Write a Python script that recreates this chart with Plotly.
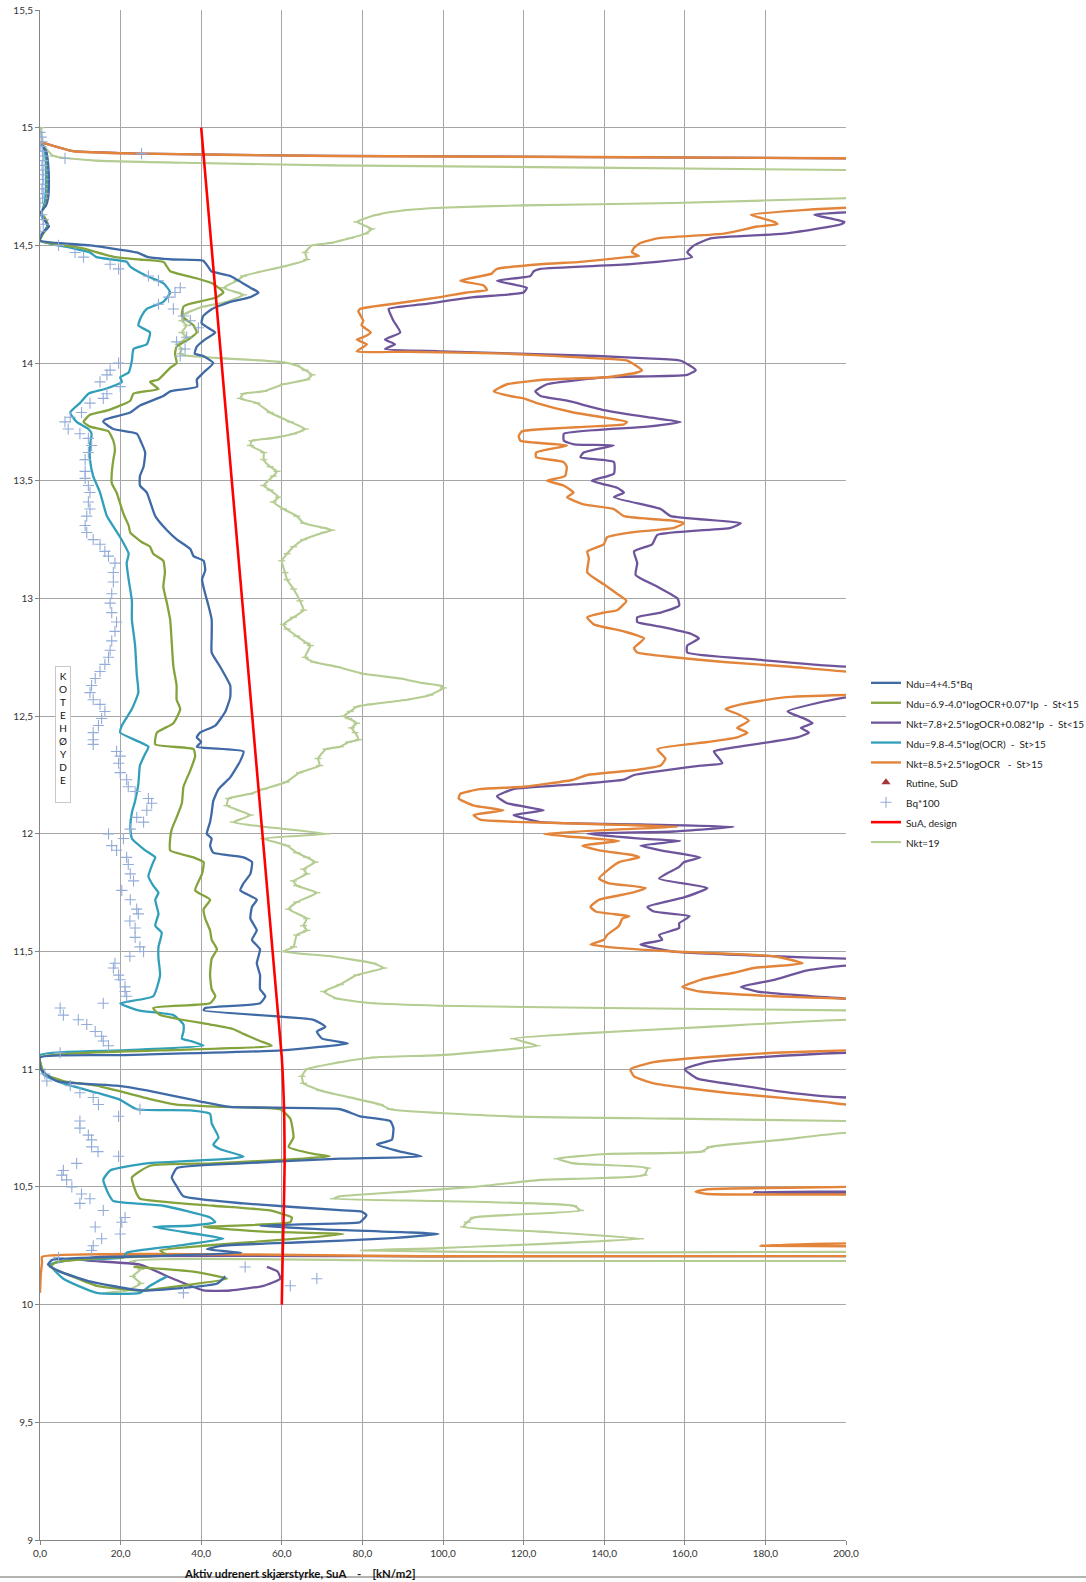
import plotly.graph_objects as go

# ---------------------------------------------------------------
# Undrained shear strength profiles (kN/m2) against elevation (m)
# Values beyond 200 run off the right edge of the chart.
# ---------------------------------------------------------------

# Ndu = 4 + 4.5*Bq
blue_kote = [14.93, 14.90, 14.85, 14.75, 14.70, 14.67, 14.64, 14.61, 14.58, 14.56, 14.54, 14.52,
             14.50, 14.47, 14.45, 14.44, 14.435, 14.41, 14.39, 14.37, 14.32, 14.30, 14.28, 14.26,
             14.23, 14.20, 14.17, 14.15, 14.13, 14.10, 14.07, 14.04, 14.03, 14.00, 13.96, 13.93,
             13.90, 13.88, 13.86, 13.82, 13.79, 13.76, 13.75, 13.72, 13.70, 13.66, 13.62, 13.56,
             13.52, 13.48, 13.45, 13.35, 13.29, 13.25, 13.21, 13.18, 13.16, 13.12, 13.08, 13.02,
             12.97, 12.91, 12.84, 12.77, 12.71, 12.63, 12.58, 12.52, 12.46, 12.43, 12.41, 12.39,
             12.37, 12.35, 12.31, 12.24, 12.19, 12.14, 12.09, 12.05, 12.00, 11.98, 11.95, 11.92,
             11.90, 11.88, 11.83, 11.79, 11.76, 11.72, 11.69, 11.64, 11.59, 11.55, 11.51, 11.45,
             11.40, 11.34, 11.31, 11.28, 11.26, 11.25, 11.21, 11.18, 11.16, 11.13, 11.11, 11.08,
             11.06, 11.05, 11.00, 10.95, 10.93, 10.91, 10.87, 10.86, 10.84, 10.83, 10.80, 10.78,
             10.75, 10.70, 10.68, 10.65, 10.63, 10.62, 10.60, 10.58, 10.54, 10.50, 10.46, 10.43,
             10.40, 10.395, 10.38, 10.35, 10.345, 10.335, 10.32, 10.30, 10.28, 10.265, 10.25, 10.235,
             10.22, 10.205, 10.19, 10.17, 10.14, 10.10, 10.06, 10.07, 10.09, 10.12]
blue_su = [0.3, 1.5, 2.0, 2.2, 2.0, 1.5, 0.2, 1.0, 2.2, 1.0, 0.2, 0.0,
           12.4, 24.0, 26.9, 33.0, 40.5, 41.7, 42.5, 47.2, 52.2, 54.2, 52.2, 47.2,
           42.7, 40.5, 40.1, 41.7, 43.5, 40.9, 38.9, 38.4, 40.5, 43.0, 40.6, 38.9,
           39.0, 32.3, 30.6, 24.8, 22.4, 16.1, 15.7, 18.2, 24.0, 25.2, 26.1, 25.7,
           24.8, 24.8, 26.5, 28.6, 31.5, 34.0, 37.3, 38.1, 40.6, 41.0, 40.2, 41.0,
           41.8, 42.6, 42.6, 42.6, 44.7, 47.2, 47.2, 46.0, 43.5, 39.7, 38.9, 40.0,
           38.9, 50.5, 49.7, 47.2, 44.3, 43.0, 42.6, 42.2, 41.4, 42.6, 42.2, 43.0,
           50.5, 52.6, 52.2, 50.5, 49.7, 53.8, 52.6, 52.2, 53.8, 52.6, 54.6, 53.8,
           54.6, 54.6, 55.9, 54.6, 41.0, 40.6, 67.9, 70.8, 68.7, 70.0, 76.4, 60.0,
           20.0, 0.0, 0.2, 4.1, 19.0, 26.5, 38.0, 40.6, 47.2, 74.5, 79.4, 86.9,
           87.7, 87.3, 83.6, 89.4, 94.7, 74.5, 50.0, 34.0, 32.7, 34.0, 35.6, 50.5,
           75.3, 79.8, 81.0, 79.4, 74.5, 54.6, 70.0, 98.9, 85.0, 65.0, 45.0, 41.4,
           50.0, 25.0, 3.0, 2.0, 5.0, 12.0, 25.0, 35.0, 44.0, 46.0]

# Ndu = 6.9 - 4.0*logOCR + 0.07*Ip  (St<15)
green_kote = [14.93, 14.90, 14.80, 14.70, 14.66, 14.64, 14.61, 14.58, 14.55, 14.52,
              14.49, 14.45, 14.44, 14.43, 14.41, 14.39, 14.36, 14.34, 14.31, 14.30, 14.28, 14.25,
              14.24, 14.20, 14.16, 14.13, 14.10, 14.07, 14.04, 14.00, 13.98, 13.93, 13.92, 13.89,
              13.87, 13.84, 13.80, 13.78, 13.75, 13.73, 13.71, 13.67, 13.63, 13.59, 13.53, 13.49,
              13.45, 13.36, 13.31, 13.28, 13.24, 13.22, 13.19, 13.16, 13.11, 13.05, 12.98, 12.91,
              12.81, 12.71, 12.63, 12.57, 12.53, 12.47, 12.43, 12.38, 12.36, 12.33, 12.27, 12.20,
              12.13, 12.07, 12.02, 11.98, 11.93, 11.90, 11.88, 11.83, 11.76, 11.72, 11.68, 11.64,
              11.59, 11.55, 11.51, 11.47, 11.40, 11.34, 11.31, 11.28, 11.26, 11.23, 11.19, 11.17,
              11.15, 11.12, 11.10, 11.08, 11.05, 10.98, 10.95, 10.93, 10.87, 10.85, 10.84, 10.83,
              10.79, 10.71, 10.67, 10.64, 10.63, 10.62, 10.60, 10.59, 10.54, 10.47, 10.45, 10.42,
              10.40, 10.37, 10.35, 10.33, 10.31, 10.30, 10.28, 10.25, 10.23, 10.21,
              10.20, 10.18, 10.16, 10.12, 10.08, 10.06, 10.08, 10.11, 10.14, 10.16]
green_su = [0.3, 1.5, 2.0, 1.8, 1.0, 0.3, 1.5, 2.0, 0.8, 0.0,
            9.9, 18.6, 24.8, 30.6, 31.5, 32.3, 38.9, 42.6, 45.1, 45.5, 43.9, 36.8,
            35.6, 35.2, 38.1, 38.9, 36.8, 33.9, 33.5, 33.9, 32.3, 29.4, 27.3, 29.4,
            23.2, 22.4, 17.0, 12.4, 10.8, 12.4, 17.0, 18.2, 18.6, 18.2, 17.8, 17.8,
            19.0, 20.7, 22.0, 22.4, 25.2, 27.3, 28.1, 30.6, 31.0, 30.6, 31.5, 32.3,
            32.7, 33.1, 33.9, 33.9, 34.8, 33.1, 29.0, 28.6, 38.1, 38.5, 37.3, 35.6,
            35.2, 33.9, 32.7, 32.3, 32.3, 38.1, 40.6, 40.2, 38.5, 42.2, 40.6, 41.0,
            42.2, 42.6, 43.9, 42.6, 42.2, 42.6, 43.5, 42.2, 28.1, 29.8, 42.2, 48.0,
            50.5, 54.6, 57.5, 30.0, 0.0, 1.2, 5.8, 14.1, 28.1, 33.9, 45.5, 59.6,
            62.1, 62.9, 61.7, 67.9, 71.9, 65.4, 43.0, 27.3, 22.8, 24.0, 24.8, 43.0,
            57.1, 62.5, 62.1, 40.6, 55.5, 75.3, 63.7, 40.6, 29.8, 31.5,
            18.0, 4.0, 2.5, 8.0, 14.1, 24.8, 35.0, 46.4, 38.0, 23.2]

# Nkt = 7.8 + 2.5*logOCR + 0.082*Ip  (St<15)
purple_kote = [14.94, 14.90, 14.89, 14.88, 14.87, 14.84, 14.66, 14.64, 14.63, 14.60, 14.59, 14.55,
               14.53, 14.50, 14.47, 14.45, 14.42, 14.40, 14.39, 14.37, 14.35, 14.32, 14.30, 14.28,
               14.25, 14.23, 14.21, 14.18, 14.13, 14.10, 14.08, 14.06, 14.05, 14.03, 14.02, 14.01,
               13.97, 13.95, 13.94, 13.91, 13.88, 13.86, 13.84, 13.80, 13.77, 13.75, 13.73, 13.70,
               13.67, 13.655, 13.65, 13.62, 13.60, 13.58, 13.53, 13.50, 13.47, 13.45, 13.43, 13.38,
               13.35, 13.32, 13.30, 13.27, 13.23, 13.20, 13.15, 13.10, 13.05, 13.00, 12.97, 12.94,
               12.92, 12.90, 12.88, 12.85, 12.83, 12.80, 12.77, 12.74, 12.71, 12.68, 12.61, 12.58,
               12.52, 12.49, 12.47, 12.45, 12.43, 12.41, 12.36, 12.35, 12.30, 12.29, 12.25, 12.23,
               12.21, 12.19, 12.16, 12.13, 12.10, 12.08, 12.05, 12.04, 12.03, 12.01, 12.00, 11.98,
               11.97, 11.95, 11.93, 11.90, 11.88, 11.86, 11.81, 11.77, 11.73, 11.69, 11.67, 11.65,
               11.62, 11.60, 11.57, 11.55, 11.53, 11.50, 11.48, 11.47, 11.455, 11.44, 11.42, 11.38,
               11.35, 11.33, 11.30, 11.25, 11.10, 11.07, 11.05, 11.03, 11.00, 10.96, 10.93, 10.90,
               10.88, 10.85, 10.49, 10.48, 10.478, 10.47, 10.46, 10.207, 10.2065, 10.2055, 10.204,
               10.19, 10.17, 10.11, 10.06, 10.06, 10.08, 10.11, 10.14, 10.16]
purple_su = [0.0, 8.3, 24.8, 72.0, 200.0, 300.0, 300.0, 200.0, 192.1, 199.6, 198.8, 184.6,
             166.4, 162.3, 160.6, 161.8, 146.5, 124.2, 122.5, 121.7, 113.4, 120.8, 120.0, 107.6,
             95.2, 86.5, 86.9, 87.7, 89.4, 85.6, 88.1, 85.6, 99.3, 138.2, 150.7, 159.0,
             162.7, 160.6, 140.7, 125.8, 122.9, 124.2, 130.8, 140.0, 150.7, 159.0, 150.7, 130.0,
             130.0, 132.5, 142.4, 134.9, 134.1, 142.4, 142.4, 136.9, 143.2, 144.9, 142.4, 154.0,
             156.5, 173.9, 171.4, 153.2, 151.9, 147.4, 148.2, 147.8, 153.2, 158.2, 158.6, 154.0,
             148.2, 148.2, 154.0, 161.5, 163.5, 160.6, 160.6, 178.0, 200.0, 300.0, 300.0, 200.0,
             185.5, 189.6, 191.7, 188.8, 190.8, 187.9, 169.7, 167.2, 169.3, 164.0, 147.4, 144.9,
             132.4, 117.5, 113.4, 115.9, 125.0, 117.5, 124.2, 149.0, 172.2, 157.3, 135.8, 149.0,
             158.9, 149.0, 154.0, 163.9, 159.8, 158.6, 153.6, 165.6, 159.8, 150.7, 152.3, 161.2,
             158.6, 158.6, 153.6, 154.4, 149.0, 157.3, 182.2, 200.0, 300.0, 200.0, 190.4, 182.2,
             173.9, 178.0, 200.0, 300.0, 300.0, 200.0, 178.0, 165.6, 160.0, 163.2, 174.0, 186.3,
             200.0, 300.0, 300.0, 200.0, 177.2, 200.0, 300.0, 300.0, 250.0, 100.0, 15.0,
             10.0, 24.8, 33.0, 40.6, 47.2, 55.5, 59.6, 59.0, 56.3]

# Ndu = 9.8 - 4.5*log(OCR)  (St>15)
teal_kote = [14.93, 14.90, 14.80, 14.70, 14.66, 14.63, 14.60, 14.58, 14.55, 14.52,
             14.49, 14.47, 14.45, 14.43, 14.41, 14.37, 14.34, 14.30, 14.26, 14.23, 14.20, 14.16,
             14.13, 14.08, 14.06, 14.01, 13.96, 13.94, 13.92, 13.89, 13.87, 13.83, 13.79, 13.75,
             13.72, 13.70, 13.65, 13.59, 13.52, 13.45, 13.35, 13.26, 13.19, 13.15, 13.08, 12.99,
             12.91, 12.80, 12.68, 12.60, 12.53, 12.46, 12.43, 12.37, 12.34, 12.29, 12.21, 12.14,
             12.09, 12.03, 11.98, 11.93, 11.90, 11.88, 11.82, 11.78, 11.75, 11.72, 11.66, 11.61,
             11.58, 11.52, 11.47, 11.40, 11.31, 11.28, 11.25, 11.23, 11.19, 11.16, 11.13, 11.12,
             11.10, 11.08, 11.06, 10.98, 10.94, 10.90, 10.87, 10.83, 10.825, 10.81, 10.77, 10.71,
             10.68, 10.66, 10.63, 10.62, 10.60, 10.57, 10.53, 10.47, 10.44, 10.42, 10.37, 10.35,
             10.335, 10.33, 10.30, 10.28, 10.25, 10.22, 10.20,
             10.19, 10.17, 10.11, 10.05, 10.05, 10.08, 10.12]
teal_su = [0.3, 1.2, 1.5, 1.3, 0.8, 0.2, 1.5, 1.8, 0.6, 0.0,
           7.5, 12.4, 14.0, 21.5, 22.4, 26.5, 30.6, 32.3, 30.6, 26.5, 25.2, 24.4,
           27.3, 26.5, 23.2, 22.8, 22.0, 19.9, 20.3, 16.1, 12.0, 9.9, 7.5, 9.1,
           12.0, 12.8, 12.4, 12.4, 13.2, 14.9, 16.6, 19.9, 22.0, 21.5, 22.0, 22.8,
           22.8, 23.6, 24.0, 24.4, 22.8, 20.3, 19.9, 26.9, 26.1, 24.8, 24.4, 23.6,
           22.8, 22.4, 22.8, 26.1, 28.6, 28.1, 26.9, 28.1, 29.4, 28.6, 29.4, 28.6,
           30.2, 29.4, 29.4, 29.8, 28.1, 19.9, 24.4, 33.1, 35.6, 35.6, 35.2, 37.3,
           40.6, 20.0, 0.0, 0.8, 5.8, 14.1, 19.9, 24.0, 37.3, 42.2, 42.6, 44.3,
           43.0, 44.7, 50.5, 47.2, 26.5, 17.4, 15.7, 17.0, 18.2, 30.6, 42.2, 43.5,
           37.3, 28.1, 38.9, 45.5, 33.9, 21.5, 20.7,
           8.0, 2.5, 5.8, 14.1, 24.8, 27.3, 31.5]

# Nkt = 8.5 + 2.5*logOCR  (St>15)
orange_kote = [14.94, 14.90, 14.89, 14.88, 14.87, 14.84, 14.68, 14.66, 14.65, 14.63, 14.60, 14.59,
               14.58, 14.55, 14.53, 14.51, 14.49, 14.47, 14.455, 14.45, 14.43, 14.42, 14.40, 14.39,
               14.38, 14.35, 14.33, 14.31, 14.30, 14.28, 14.25, 14.23, 14.22, 14.18, 14.16, 14.13,
               14.11, 14.10, 14.08, 14.05, 14.048, 14.04, 14.02, 14.01, 13.97, 13.96, 13.94, 13.93,
               13.91, 13.88, 13.86, 13.85, 13.83, 13.79, 13.75, 13.74, 13.73, 13.71, 13.69, 13.67,
               13.65, 13.62, 13.60, 13.58, 13.56, 13.52, 13.50, 13.48, 13.45, 13.43, 13.40, 13.38,
               13.35, 13.33, 13.32, 13.30, 13.28, 13.26, 13.23, 13.20, 13.17, 13.11, 13.06, 13.02,
               12.99, 12.95, 12.94, 12.92, 12.89, 12.86, 12.83, 12.79, 12.77, 12.75, 12.73, 12.71,
               12.69, 12.66, 12.62, 12.59, 12.58, 12.55, 12.53, 12.51, 12.48, 12.45, 12.43, 12.41,
               12.39, 12.36, 12.32, 12.29, 12.27, 12.25, 12.23, 12.20, 12.19, 12.17, 12.15, 12.12,
               12.10, 12.08, 12.06, 12.05, 12.04, 12.03, 12.02, 12.00, 11.99, 11.97, 11.95, 11.93,
               11.91, 11.90, 11.88, 11.85, 11.81, 11.79, 11.77, 11.75, 11.72, 11.69, 11.67, 11.65,
               11.64, 11.61, 11.57, 11.55, 11.53, 11.52, 11.50, 11.48, 11.45, 11.43, 11.41, 11.38,
               11.35, 11.33, 11.31, 11.30, 11.27, 11.11, 11.08, 11.07, 11.05, 11.03, 11.00, 10.97,
               10.94, 10.92, 10.90, 10.87, 10.86, 10.85, 10.82, 10.52, 10.50, 10.49, 10.48, 10.47,
               10.468, 10.45, 10.27, 10.26, 10.25, 10.248, 10.24, 10.207, 10.2065, 10.2055, 10.203,
               10.18, 10.13, 10.05]
orange_su = [0.0, 8.3, 24.8, 72.0, 200.0, 300.0, 300.0, 200.0, 189.2, 176.4, 182.2, 183.0,
             178.0, 169.7, 153.2, 149.0, 147.4, 146.9, 148.6, 145.7, 134.1, 124.2, 113.4, 112.6,
             112.1, 104.3, 110.1, 110.9, 105.9, 99.3, 86.9, 79.4, 79.0, 80.2, 79.8, 82.1,
             80.2, 78.6, 81.1, 78.6, 91.0, 115.9, 138.2, 145.7, 149.4, 148.2, 140.7, 125.8,
             115.9, 112.6, 116.7, 120.0, 123.3, 132.4, 145.7, 144.9, 135.8, 119.6, 118.8, 119.2,
             130.8, 123.1, 123.1, 129.9, 130.7, 130.3, 125.8, 129.9, 132.4, 130.8, 134.9, 142.4,
             144.9, 157.3, 159.8, 157.3, 146.5, 140.7, 139.9, 135.8, 136.2, 135.8, 139.9, 143.2,
             145.5, 143.2, 139.9, 135.8, 137.4, 144.9, 149.9, 147.4, 148.2, 157.3, 169.7, 186.3,
             200.0, 300.0, 300.0, 200.0, 184.6, 173.9, 170.1, 173.0, 175.9, 173.0, 175.5, 173.0,
             165.6, 153.2, 155.2, 154.0, 147.4, 135.8, 132.4, 120.0, 109.2, 104.3, 103.9, 107.6,
             115.0, 107.6, 109.2, 120.0, 140.7, 158.2, 145.0, 125.0, 130.4, 143.7, 134.6, 138.7,
             147.0, 148.7, 143.7, 141.2, 138.7, 141.2, 150.3, 147.0, 138.7, 136.6, 137.9, 146.2,
             144.5, 143.7, 140.7, 139.9, 136.6, 140.7, 157.3, 182.2, 189.2, 177.2, 172.2, 163.9,
             159.4, 163.9, 182.2, 200.0, 300.0, 300.0, 200.0, 182.2, 163.9, 152.3, 146.5, 147.4,
             152.3, 160.4, 170.3, 189.4, 195.1, 200.0, 300.0, 300.0, 200.0, 165.6, 162.7, 165.6,
             200.0, 300.0, 300.0, 200.0, 178.8, 200.0, 300.0, 300.0, 250.0, 100.0, 0.5,
             0.5, 0.2, 0.0]

# Nkt = 19
lgreen_kote = [15.00, 14.93, 14.88, 14.86, 14.85, 14.84, 14.82, 14.78, 14.72, 14.70, 14.68, 14.67,
               14.66, 14.65, 14.63, 14.60, 14.57, 14.55, 14.53, 14.51, 14.50, 14.47, 14.44, 14.41,
               14.37, 14.35, 14.32, 14.30, 14.29, 14.26, 14.24, 14.21, 14.18, 14.16, 14.13, 14.11,
               14.08, 14.06, 14.04, 14.03, 14.02, 14.005, 13.99, 13.97, 13.95, 13.93, 13.91, 13.88,
               13.87, 13.85, 13.83, 13.79, 13.75, 13.72, 13.70, 13.68, 13.67, 13.65, 13.62, 13.59,
               13.56, 13.54, 13.52, 13.48, 13.46, 13.43, 13.41, 13.38, 13.35, 13.32, 13.30, 13.29,
               13.28, 13.25, 13.22, 13.19, 13.16, 13.11, 13.08, 13.04, 12.99, 12.95, 12.92, 12.89,
               12.87, 12.84, 12.81, 12.80, 12.75, 12.73, 12.71, 12.68, 12.66, 12.64, 12.63, 12.62,
               12.59, 12.57, 12.55, 12.54, 12.52, 12.50, 12.49, 12.47, 12.45, 12.43, 12.40, 12.39,
               12.37, 12.36, 12.32, 12.29, 12.26, 12.22, 12.19, 12.17, 12.15, 12.12, 12.08, 12.05,
               12.03, 12.00, 11.98, 11.95, 11.92, 11.90, 11.88, 11.85, 11.83, 11.80, 11.78, 11.75,
               11.71, 11.68, 11.64, 11.61, 11.59, 11.57, 11.52, 11.50, 11.48, 11.45, 11.43, 11.40,
               11.36, 11.33, 11.30, 11.28, 11.27, 11.26, 11.25, 11.23, 11.21, 11.18, 11.15, 11.13,
               11.10, 11.08, 11.06, 11.05, 11.03, 11.00, 10.97, 10.94, 10.91, 10.88, 10.85, 10.83,
               10.80, 10.79, 10.78, 10.76, 10.73, 10.70, 10.67, 10.65, 10.64, 10.62, 10.60, 10.58,
               10.55, 10.53, 10.50, 10.48, 10.46, 10.45, 10.44, 10.42, 10.40, 10.37, 10.35, 10.33,
               10.31, 10.28, 10.24, 10.23, 10.222, 10.220, 10.218, 10.186, 10.1855, 10.185, 10.184,
               10.15, 10.12, 10.09, 10.06, 10.05]
lgreen_su = [0.3, 0.8, 3.3, 14.1, 38.9, 72.0, 200.0, 300.0, 300.0, 200.0, 157.3, 120.0,
             99.3, 91.0, 83.6, 78.6, 82.3, 80.7, 76.9, 72.0, 67.5, 65.8, 66.2, 60.4,
             50.5, 48.9, 45.5, 48.9, 50.5, 46.4, 40.6, 36.0, 35.2, 36.4, 35.2, 36.4,
             34.3, 35.2, 34.8, 37.3, 45.5, 59.6, 63.7, 65.8, 67.5, 66.2, 60.4, 55.5,
             50.5, 49.7, 53.8, 57.1, 62.1, 65.8, 62.9, 57.1, 52.6, 52.2, 55.5, 55.5,
             57.1, 58.8, 57.9, 55.5, 57.1, 59.2, 57.9, 60.4, 63.7, 65.4, 70.4, 72.4,
             70.4, 65.4, 62.9, 61.3, 60.0, 60.8, 61.3, 62.9, 64.5, 65.4, 62.9, 60.4,
             61.3, 63.7, 66.2, 67.1, 65.8, 67.9, 73.7, 80.3, 89.4, 95.2, 99.3, 100.1,
             96.8, 91.0, 81.9, 78.6, 77.0, 75.3, 76.6, 78.6, 77.3, 78.2, 79.0, 76.6,
             74.5, 71.0, 69.0, 69.4, 64.4, 61.1, 55.5, 52.2, 46.8, 46.4, 52.2, 48.0,
             55.5, 71.2, 55.5, 61.3, 63.7, 66.2, 68.3, 65.4, 66.2, 62.9, 63.7, 68.7,
             63.7, 61.7, 66.2, 65.4, 66.2, 63.7, 62.9, 60.4, 72.0, 82.7, 85.3, 78.6,
             74.5, 70.4, 73.7, 82.7, 99.3, 140.7, 200.0, 300.0, 200.0, 165.6, 132.4, 117.5,
             123.3, 113.4, 99.3, 82.7, 74.5, 66.2, 65.0, 65.4, 69.5, 77.0, 84.4, 86.9,
             115.9, 157.3, 200.0, 300.0, 200.0, 183.8, 166.2, 164.2, 140.7, 128.3, 132.4, 150.7,
             149.9, 124.2, 107.6, 91.0, 74.5, 72.8, 99.3, 132.4, 134.1, 107.6, 106.0, 105.1,
             124.2, 149.0, 99.3, 80.2, 120.0, 300.0, 300.0, 300.0, 250.0, 100.0, 23.0,
             25.0, 23.0, 25.0, 21.5, 16.5]

# Bq*100
bq_kote = [14.98, 14.96, 14.94, 14.92, 14.90, 14.88, 14.86, 14.84, 14.82, 14.80, 14.78, 14.76,
           14.74, 14.72, 14.70, 14.68, 14.63, 14.61, 14.59, 14.56, 14.89, 14.87,
           14.50, 14.47, 14.45, 14.42, 14.40, 14.37, 14.35, 14.32, 14.30, 14.28, 14.25, 14.23,
           14.20, 14.18, 14.15, 14.11, 14.09, 14.06, 14.03, 14.00, 13.97, 13.95, 13.92, 13.90,
           13.87, 13.85, 13.83, 13.79, 13.77, 13.75, 13.72, 13.70, 13.68, 13.65, 13.62, 13.59,
           13.54, 13.51, 13.48, 13.45, 13.41, 13.38, 13.35, 13.31, 13.28, 13.25, 13.23, 13.20,
           13.18, 13.15, 13.11, 13.07, 13.02, 12.98, 12.94, 12.90, 12.86, 12.82, 12.78, 12.75,
           12.72, 12.69, 12.66, 12.63, 12.60, 12.57, 12.55, 12.52, 12.49, 12.46, 12.43, 12.40,
           12.38, 12.35, 12.33, 12.30, 12.26, 12.23, 12.20, 12.18, 12.15, 12.13, 12.10, 12.07,
           12.05, 12.02, 12.00, 11.98, 11.95, 11.93, 11.90, 11.87, 11.83, 11.80, 11.76, 11.72,
           11.68, 11.66, 11.63, 11.60, 11.56, 11.52, 11.50, 11.48, 11.45, 11.43, 11.40, 11.38,
           11.35, 11.33, 11.31, 11.28, 11.26, 11.23, 11.21, 11.19, 11.16, 11.14, 11.12, 11.10,
           11.07, 10.98, 10.95, 10.93, 10.90, 10.88, 10.85, 10.83, 10.80, 10.78, 10.75, 10.72,
           10.70, 10.67, 10.65, 10.63, 10.60, 10.57, 10.55, 10.53, 10.50, 10.47, 10.45, 10.43,
           10.40, 10.37, 10.35, 10.33, 10.30, 10.28, 10.25, 10.23, 10.20, 10.16, 10.11, 10.08,
           10.05]
bq_su = [0.0, 0.3, 0.5, 0.2, 0.6, 0.8, 0.7, 0.5, 0.8, 0.6, 0.8, 0.7,
         0.5, 0.8, 0.6, 0.0, 0.4, 0.8, 0.8, 0.0, 25.2, 6.2,
         4.6, 8.7, 10.8, 17.4, 19.5, 26.9, 29.4, 34.8, 33.5, 31.9, 29.4, 33.1,
         35.6, 37.3, 39.3, 36.4, 33.9, 36.0, 34.8, 19.5, 17.4, 16.6, 14.9, 19.9,
         16.6, 15.7, 12.4, 10.3, 7.5, 6.2, 7.0, 9.9, 12.0, 12.8, 12.0, 11.2,
         11.2, 11.2, 12.0, 12.4, 12.0, 12.4, 11.6, 11.2, 11.6, 13.2, 14.9, 16.1,
         17.0, 18.6, 18.2, 18.2, 17.8, 17.4, 17.8, 19.0, 18.6, 17.8, 17.4, 17.0,
         16.1, 14.9, 13.7, 12.8, 12.4, 13.2, 14.9, 16.1, 15.3, 14.5, 13.2, 13.2,
         13.2, 19.0, 19.9, 19.5, 19.9, 21.5, 21.9, 23.6, 26.9, 27.7, 26.5, 24.0,
         25.7, 22.4, 17.0, 20.7, 17.8, 19.0, 21.5, 21.9, 22.4, 23.2, 20.3, 22.4,
         24.0, 24.4, 22.3, 23.6, 23.6, 24.8, 25.7, 22.3, 18.6, 18.2, 19.5, 19.9,
         21.1, 21.1, 21.5, 15.7, 5.0, 5.8, 9.5, 11.6, 13.7, 15.3, 15.7, 17.0,
         5.0, 1.2, 1.7, 7.5, 9.9, 13.2, 14.5, 24.8, 19.5, 9.9, 9.9, 12.0,
         12.8, 12.8, 14.4, 19.5, 9.1, 5.8, 5.4, 6.6, 7.9, 10.3, 12.4, 9.9,
         15.7, 21.1, 20.3, 13.7, 19.9, 15.3, 13.2, 12.8, 4.6, 50.9, 68.7, 62.1,
         35.6]

# SuA, design
design_kote = [15.0, 11.05, 10.8, 10.6, 10.4, 10.2, 10.0]
design_su = [40.0, 60.0, 60.6, 60.7, 60.5, 60.2, 60.0]

y_ticks = [9, 9.5, 10, 10.5, 11, 11.5, 12, 12.5, 13, 13.5, 14, 14.5, 15, 15.5]
y_tick_text = ["9", "9,5", "10", "10,5", "11", "11,5", "12", "12,5", "13", "13,5", "14", "14,5", "15", "15,5"]
x_ticks = [0, 20, 40, 60, 80, 100, 120, 140, 160, 180, 200]
x_tick_text = ["0,0", "20,0", "40,0", "60,0", "80,0", "100,0", "120,0", "140,0", "160,0", "180,0", "200,0"]

FONT = "Lato, 'Open Sans', sans-serif"

fig = go.Figure()


def legend_label(text):
    # entries are laid out with a 13 px font (item pitch), text drawn at 10 px
    return "<span style='font-size:10px'>" + text + "</span>"


def curve(x, y, name, color, width, rank, ticks=False):
    fig.add_trace(go.Scatter(
        x=x, y=y, name=legend_label(name), mode="lines+markers" if ticks else "lines",
        line=dict(color=color, width=width, shape="spline", smoothing=0.45),
        marker=dict(symbol="line-ew", size=5, line=dict(color=color, width=1.4)),
        legendrank=rank, hoverinfo="skip",
    ))


curve(lgreen_su, lgreen_kote, "Nkt=19", "#b5cc92", 2.1, 9, ticks=True)
curve(purple_su, purple_kote, "Nkt=7.8+2.5*logOCR+0.082*Ip  -  St<15", "#6e559b", 2.3, 3)
curve(orange_su, orange_kote, "Nkt=8.5+2.5*logOCR   -  St>15", "#e2843a", 2.4, 5)
curve(teal_su, teal_kote, "Ndu=9.8-4.5*log(OCR)  -  St>15", "#329fba", 2.3, 4)
curve(green_su, green_kote, "Ndu=6.9-4.0*logOCR+0.07*Ip  -  St<15", "#84a33d", 2.3, 2)
curve(blue_su, blue_kote, "Ndu=4+4.5*Bq", "#3f6aa6", 2.3, 1)

fig.add_trace(go.Scatter(
    x=[None], y=[None], name=legend_label("Rutine, SuD"), mode="markers",
    marker=dict(symbol="triangle-up", size=8, color="#a5373a"), legendrank=6,
))
fig.add_trace(go.Scatter(
    x=bq_su, y=bq_kote, name=legend_label("Bq*100"), mode="markers",
    marker=dict(symbol="cross-thin", size=8, line=dict(color="#93acd8", width=1.1)),
    legendrank=7, hoverinfo="skip",
))
fig.add_trace(go.Scatter(
    x=design_su, y=design_kote, name=legend_label("SuA, design"), mode="lines",
    line=dict(color="#ff0000", width=2.6, shape="spline", smoothing=0.4),
    legendrank=8, hoverinfo="skip",
))

fig.update_layout(
    width=1086, height=1582,
    margin=dict(l=40, r=240, t=10, b=42, autoexpand=False),
    paper_bgcolor="white", plot_bgcolor="white",
    font=dict(family=FONT, size=10, color="#333333"),
    showlegend=True,
    legend=dict(
        x=1.0248, y=0.570, xanchor="left", yanchor="top",
        font=dict(family=FONT, size=13, color="#222222"),
        bgcolor="rgba(0,0,0,0)", itemwidth=30, tracegroupgap=0,
    ),
    xaxis=dict(
        range=[0, 200], tickvals=x_ticks, ticktext=x_tick_text, automargin=False,
        showgrid=True, gridcolor="#a6a6a6", gridwidth=1,
        showline=True, linecolor="#868686", linewidth=1,
        ticks="outside", ticklen=4, tickcolor="#868686",
        zeroline=False, tickfont=dict(size=10, color="#333333"),
    ),
    yaxis=dict(
        range=[9, 15.5], tickvals=y_ticks, ticktext=y_tick_text, automargin=False,
        showgrid=True, gridcolor="#a6a6a6", gridwidth=1,
        showline=True, linecolor="#868686", linewidth=1,
        ticks="outside", ticklen=4, tickcolor="#868686",
        zeroline=False, tickfont=dict(size=10, color="#333333"),
    ),
)

# vertical axis caption inside the plot area
fig.add_annotation(
    x=5.6, y=12.42, xref="x", yref="y",
    text="K<br>O<br>T<br>E<br>H<br>Ø<br>Y<br>D<br>E<br> ",
    showarrow=False, font=dict(family=FONT, size=10, color="#111111"),
    bordercolor="#c8c8c8", borderwidth=1, borderpad=3, bgcolor="white",
)

# horizontal axis caption
fig.add_annotation(
    x=0.3226, y=-0.0165, xref="paper", yref="paper", xanchor="center", yanchor="top",
    text="<b>Aktiv udrenert skjærstyrke, SuA    -    [kN/m2]</b>",
    showarrow=False, font=dict(family=FONT, size=11.4, color="#111111"),
)

# frame line at the bottom of the chart
fig.add_shape(
    type="line", xref="paper", yref="paper",
    x0=-0.06, x1=1.3, y0=-0.0242, y1=-0.0242,
    line=dict(color="#9a9a9a", width=1.5),
)

fig.write_html("out.html")
